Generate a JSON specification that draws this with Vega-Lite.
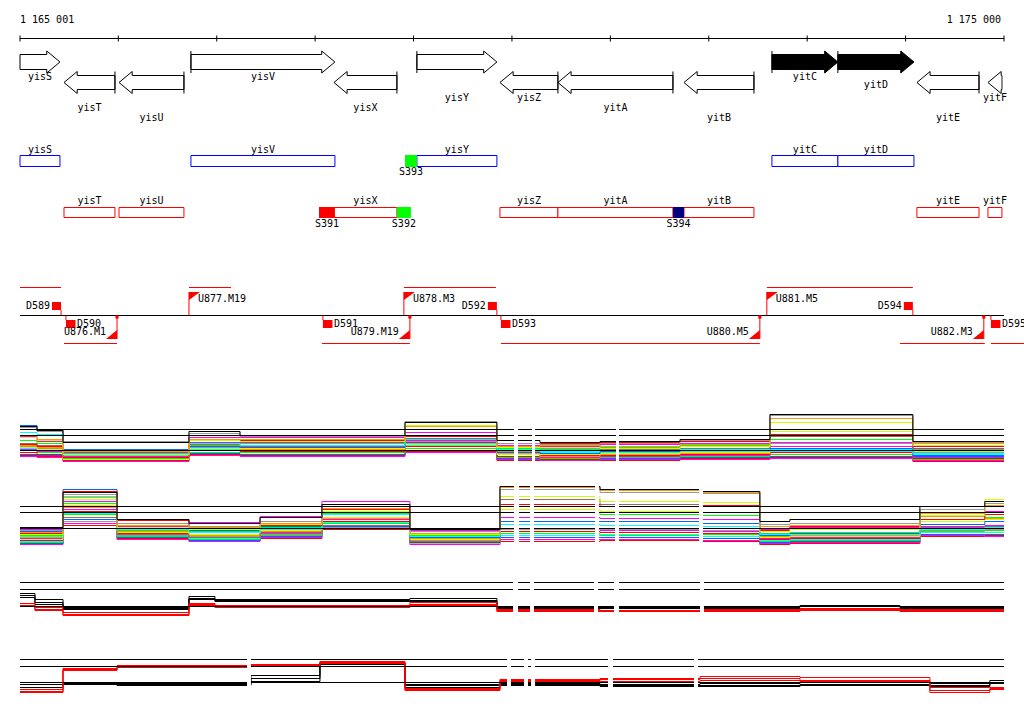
{
"$schema":"https://vega.github.io/schema/vega-lite/v6.json",
"background":"white",
"padding":{"left":18,"top":0,"right":0,"bottom":0},
"spacing":0,
"bounds":"flush",
"config":{"view":{"stroke":null},"text":{"font":"DejaVu Sans Mono","fontSize":10,"baseline":"middle","color":"black"}},
"resolve":{"scale":{"x":"independent","y":"independent","color":"independent","fill":"independent"}},
"datasets":{
"ticks":[{"t":1165001},{"t":1166000},{"t":1167000},{"t":1168000},{"t":1169000},{"t":1170000},{"t":1171000},{"t":1172000},{"t":1173000},{"t":1174000},{"t":1175000}],
"genes":[
{"g":"yisS","start":1165001,"end":1165407,"str":"+","cls":"n","trunc":"s","tier":0},
{"g":"yisT","start":1165448,"end":1165966,"str":"-","cls":"n","trunc":"","tier":3},
{"g":"yisU","start":1166007,"end":1166667,"str":"-","cls":"n","trunc":"","tier":4},
{"g":"yisV","start":1166738,"end":1168201,"str":"+","cls":"n","trunc":"","tier":0},
{"g":"yisX","start":1168191,"end":1168831,"str":"-","cls":"n","trunc":"","tier":3},
{"g":"yisY","start":1169034,"end":1169847,"str":"+","cls":"n","trunc":"","tier":2},
{"g":"yisZ","start":1169878,"end":1170467,"str":"-","cls":"n","trunc":"","tier":2},
{"g":"yitA","start":1170467,"end":1171636,"str":"-","cls":"n","trunc":"","tier":3},
{"g":"yitB","start":1171748,"end":1172459,"str":"-","cls":"n","trunc":"","tier":4},
{"g":"yitC","start":1172642,"end":1173312,"str":"+","cls":"q","trunc":"","tier":0},
{"g":"yitD","start":1173312,"end":1174085,"str":"+","cls":"q","trunc":"","tier":0.8},
{"g":"yitE","start":1174115,"end":1174746,"str":"-","cls":"n","trunc":"","tier":4},
{"g":"yitF","start":1174837,"end":1174979,"str":"-","cls":"n","trunc":"e","tier":2}
],
"sites":[
{"n":"S393","a":1168913,"b":1169034,"str":"+","cat":"g"},
{"n":"S391","a":1168039,"b":1168201,"str":"-","cat":"r"},
{"n":"S392","a":1168831,"b":1168973,"str":"-","cat":"g"},
{"n":"S394","a":1171636,"b":1171748,"str":"-","cat":"b"}
],
"tus":[
{"a":1165001,"b":1165418,"str":"+"},{"a":1166718,"b":1167145,"str":"+"},{"a":1168902,"b":1169837,"str":"+"},{"a":1172590,"b":1174074,"str":"+"},
{"a":1165448,"b":1165987,"str":"-"},{"a":1168069,"b":1168963,"str":"-"},{"a":1169888,"b":1172519,"str":"-"},{"a":1173942,"b":1174805,"str":"-"},{"a":1174867,"b":1175203,"str":"-"}
],
"terms":[
{"n":"D589","pos":1165418,"str":"+"},{"n":"D592","pos":1169847,"str":"+"},{"n":"D594","pos":1174074,"str":"+"},
{"n":"D590","pos":1165468,"str":"-"},{"n":"D591","pos":1168079,"str":"-"},{"n":"D593","pos":1169888,"str":"-"},{"n":"D595","pos":1174867,"str":"-"}
],
"proms":[
{"n":"U877.M19","pos":1166718,"str":"+"},{"n":"U878.M3","pos":1168902,"str":"+"},{"n":"U881.M5","pos":1172590,"str":"+"},
{"n":"U876.M1","pos":1165987,"str":"-"},{"n":"U879.M19","pos":1168963,"str":"-"},{"n":"U880.M5","pos":1172519,"str":"-"},{"n":"U882.M3","pos":1174795,"str":"-"}
],
"refs":[{"p":4,"v":5.0},{"p":4,"v":4.4},{"p":4,"v":2.9},{"p":5,"v":5.3},{"p":5,"v":4.7},{"p":5,"v":3.1},{"p":6,"v":4.7},{"p":6,"v":4.0},{"p":6,"v":2.3},{"p":7,"v":5.4},{"p":7,"v":4.7},{"p":7,"v":3.1}],
"gaps":[
{"p":4,"a":1170021,"b":1170062},{"p":4,"a":1170204,"b":1170235},{"p":4,"a":1171057,"b":1171088},
{"p":5,"a":1170021,"b":1170072},{"p":5,"a":1170184,"b":1170224},{"p":5,"a":1170844,"b":1170885},{"p":5,"a":1171047,"b":1171088},{"p":5,"a":1171901,"b":1171941},
{"p":6,"a":1170011,"b":1170062},{"p":6,"a":1170184,"b":1170224},{"p":6,"a":1170834,"b":1170875},{"p":6,"a":1171037,"b":1171088},{"p":6,"a":1171911,"b":1171951},
{"p":7,"a":1167308,"b":1167348},{"p":7,"a":1169950,"b":1169990},{"p":7,"a":1170123,"b":1170163},{"p":7,"a":1170194,"b":1170235},{"p":7,"a":1170976,"b":1171027},{"p":7,"a":1171850,"b":1171891}
],
"p4":[
{"x":1165001,"k1":5.3,"g1":5.2,"o1":4.4,"y1":4.2,"m1":4.3,"c1":4.7,"r1":3.5,"n1":3.9,"b1":5.4,"y2":3.2,"m2":3.0,"r2":2.7,"o2":3.4,"n2":2.9,"c2":3.1,"w1":3.6,"b2":2.5,"g2":3.3,"m3":2.3,"r3":2.4},
{"x":1165174,"k1":4.9,"g1":4.8,"o1":4.0,"y1":3.9,"m1":3.8,"c1":4.5,"r1":3.3,"n1":3.6,"b1":5.0,"y2":3.0,"m2":2.8,"r2":2.5,"o2":3.2,"n2":2.7,"c2":2.9,"w1":3.4,"b2":2.4,"g2":3.1,"m3":2.2,"r3":2.3},
{"x":1165438,"k1":3.7,"g1":3.8,"o1":2.8,"y1":2.5,"m1":2.7,"c1":2.4,"r1":2.2,"n1":2.6,"b1":3.0,"y2":2.0,"m2":2.3,"r2":1.9,"o2":3.0,"n2":2.1,"c2":2.5,"w1":2.6,"b2":2.2,"g2":2.4,"m3":1.8,"r3":2.0},
{"x":1166718,"k1":4.8,"g1":4.6,"o1":4.0,"y1":3.9,"m1":4.2,"c1":3.6,"r1":4.0,"n1":3.4,"b1":3.3,"y2":3.1,"m2":3.7,"r2":2.9,"o2":3.2,"n2":2.7,"c2":3.0,"w1":3.5,"b2":2.6,"g2":3.2,"m3":2.4,"r3":2.5},
{"x":1167237,"k1":4.4,"g1":4.3,"o1":4.0,"y1":3.8,"m1":4.2,"c1":3.4,"r1":3.9,"n1":3.6,"b1":3.2,"y2":3.1,"m2":3.7,"r2":2.8,"o2":3.0,"n2":2.7,"c2":2.9,"w1":3.3,"b2":2.5,"g2":3.4,"m3":2.3,"r3":2.4},
{"x":1168913,"k1":5.7,"g1":5.8,"o1":5.3,"y1":5.4,"m1":4.7,"c1":4.0,"r1":4.3,"n1":4.4,"b1":3.7,"y2":3.5,"m2":3.9,"r2":3.3,"o2":3.6,"n2":3.1,"c2":3.4,"w1":4.1,"b2":2.9,"g2":3.8,"m3":2.7,"r3":2.8},
{"x":1169847,"k1":3.9,"g1":3.6,"o1":3.3,"y1":3.2,"m1":3.4,"c1":3.0,"r1":3.6,"n1":3.1,"b1":2.7,"y2":2.5,"m2":2.9,"r2":2.3,"o2":2.6,"n2":2.2,"c2":2.8,"w1":3.0,"b2":2.1,"g2":2.8,"m3":2.0,"r3":1.9},
{"x":1170285,"k1":3.7,"g1":3.5,"o1":3.4,"y1":3.2,"m1":3.3,"c1":2.8,"r1":3.6,"n1":3.1,"b1":2.6,"y2":2.5,"m2":2.2,"r2":2.4,"o2":2.3,"n2":2.1,"c2":2.7,"w1":2.9,"b2":2.2,"g2":3.0,"m3":1.9,"r3":2.0},
{"x":1170895,"k1":3.8,"g1":3.6,"o1":3.3,"y1":3.1,"m1":3.5,"c1":2.9,"r1":3.7,"n1":3.2,"b1":2.8,"y2":2.6,"m2":2.3,"r2":2.4,"o2":2.5,"n2":2.2,"c2":2.7,"w1":3.0,"b2":2.1,"g2":2.9,"m3":2.0,"r3":1.9},
{"x":1171708,"k1":4.0,"g1":3.9,"o1":3.5,"y1":3.3,"m1":3.6,"c1":3.0,"r1":3.8,"n1":3.4,"b1":2.9,"y2":2.7,"m2":2.4,"r2":2.5,"o2":2.6,"n2":2.3,"c2":2.8,"w1":3.1,"b2":2.2,"g2":3.0,"m3":2.0,"r3":2.1},
{"x":1172622,"k1":6.5,"g1":6.4,"o1":6.1,"y1":5.7,"m1":3.7,"c1":2.8,"r1":4.5,"n1":4.0,"b1":3.1,"y2":4.8,"m2":3.3,"r2":2.7,"o2":2.9,"n2":2.5,"c2":3.0,"w1":4.3,"b2":2.3,"g2":3.6,"m3":2.1,"r3":2.2},
{"x":1174074,"k1":3.8,"g1":3.7,"o1":3.6,"y1":3.4,"m1":3.1,"c1":2.5,"r1":3.3,"n1":3.0,"b1":2.4,"y2":2.8,"m2":2.2,"r2":2.1,"o2":2.7,"n2":2.0,"c2":2.6,"w1":2.9,"b2":2.3,"g2":2.7,"m3":1.9,"r3":1.8},
{"x":1175000,"k1":3.8,"g1":3.7,"o1":3.6,"y1":3.4,"m1":3.1,"c1":2.5,"r1":3.3,"n1":3.0,"b1":2.4,"y2":2.8,"m2":2.2,"r2":2.1,"o2":2.7,"n2":2.0,"c2":2.6,"w1":2.9,"b2":2.3,"g2":2.7,"m3":1.9,"r3":1.8}
],
"p5":[
{"x":1165001,"k1":3.2,"g1":2.9,"o1":2.7,"y1":2.5,"m1":3.0,"c1":2.3,"r1":2.6,"n1":2.4,"b1":2.8,"y2":2.0,"m2":2.1,"r2":1.9,"o2":2.2,"n2":1.7,"c2":1.8,"w1":2.3,"b2":1.6,"g2":2.4,"m3":1.5,"r3":1.6},
{"x":1165438,"k1":6.7,"g1":6.5,"o1":6.2,"y1":6.0,"m1":5.8,"c1":6.3,"r1":6.8,"n1":5.6,"b1":7.0,"y2":5.4,"m2":5.0,"r2":4.8,"o2":5.2,"n2":4.5,"c2":4.6,"w1":4.2,"b2":4.0,"g2":3.8,"m3":3.6,"r3":3.4},
{"x":1165987,"k1":4.0,"g1":3.6,"o1":3.4,"y1":3.2,"m1":3.3,"c1":3.0,"r1":3.9,"n1":2.9,"b1":3.1,"y2":2.7,"m2":2.5,"r2":2.6,"o2":2.8,"n2":2.3,"c2":2.4,"w1":2.5,"b2":2.2,"g2":2.4,"m3":2.0,"r3":2.1},
{"x":1166718,"k1":3.6,"g1":3.3,"o1":3.2,"y1":3.0,"m1":3.7,"c1":2.7,"r1":3.1,"n1":2.8,"b1":2.9,"y2":2.5,"m2":2.3,"r2":2.2,"o2":2.4,"n2":2.0,"c2":2.1,"w1":2.2,"b2":1.9,"g2":2.3,"m3":1.8,"r3":1.9},
{"x":1167440,"k1":4.2,"g1":3.8,"o1":3.6,"y1":3.5,"m1":4.3,"c1":3.0,"r1":3.4,"n1":3.2,"b1":3.3,"y2":2.9,"m2":2.7,"r2":2.6,"o2":2.8,"n2":2.4,"c2":2.5,"w1":2.6,"b2":2.3,"g2":2.5,"m3":2.2,"r3":2.1},
{"x":1168069,"k1":5.5,"g1":5.3,"o1":5.1,"y1":4.8,"m1":5.8,"c1":4.5,"r1":5.0,"n1":4.6,"b1":4.7,"y2":4.2,"m2":4.0,"r2":3.8,"o2":4.1,"n2":3.6,"c2":3.7,"w1":3.4,"b2":3.3,"g2":3.2,"m3":3.1,"r3":3.0},
{"x":1168963,"k1":3.0,"g1":2.8,"o1":2.6,"y1":2.5,"m1":2.9,"c1":2.3,"r1":3.1,"n1":2.4,"b1":2.2,"y2":2.0,"m2":1.9,"r2":1.7,"o2":2.1,"n2":1.8,"c2":1.6,"w1":1.8,"b2":1.7,"g2":1.9,"m3":1.5,"r3":1.6},
{"x":1169878,"k1":7.3,"g1":7.0,"o1":7.2,"y1":6.3,"m1":4.2,"c1":3.5,"r1":5.5,"n1":4.7,"b1":3.8,"y2":5.0,"m2":3.0,"r2":2.8,"o2":3.1,"n2":2.6,"c2":2.4,"w1":6.0,"b2":2.2,"g2":3.0,"m3":2.0,"r3":1.8},
{"x":1170895,"k1":7.0,"g1":6.7,"o1":6.9,"y1":5.8,"m1":4.1,"c1":3.4,"r1":5.3,"n1":4.5,"b1":3.8,"y2":4.8,"m2":2.9,"r2":2.7,"o2":3.0,"n2":2.4,"c2":2.5,"w1":5.5,"b2":2.2,"g2":3.0,"m3":2.0,"r3":1.9},
{"x":1171911,"k1":6.8,"g1":6.6,"o1":6.7,"y1":5.7,"m1":4.0,"c1":3.3,"r1":5.4,"n1":4.4,"b1":3.6,"y2":4.7,"m2":2.8,"r2":2.6,"o2":2.9,"n2":2.5,"c2":2.3,"w1":5.4,"b2":2.1,"g2":2.9,"m3":1.9,"r3":1.8},
{"x":1172519,"k1":3.8,"g1":3.5,"o1":3.3,"y1":2.8,"m1":3.0,"c1":2.5,"r1":2.9,"n1":2.6,"b1":2.4,"y2":2.2,"m2":2.1,"r2":2.0,"o2":2.3,"n2":1.8,"c2":1.9,"w1":2.4,"b2":1.7,"g2":2.2,"m3":1.6,"r3":1.5},
{"x":1172824,"k1":4.0,"g1":3.6,"o1":3.4,"y1":3.0,"m1":3.2,"c1":2.5,"r1":3.3,"n1":2.7,"b1":2.6,"y2":2.3,"m2":2.2,"r2":2.1,"o2":2.4,"n2":1.9,"c2":2.0,"w1":2.5,"b2":1.8,"g2":2.3,"m3":1.7,"r3":1.6},
{"x":1174145,"k1":5.3,"g1":5.0,"o1":4.6,"y1":4.4,"m1":5.0,"c1":3.0,"r1":4.0,"n1":4.7,"b1":3.5,"y2":3.8,"m2":3.3,"r2":3.1,"o2":4.3,"n2":2.9,"c2":2.7,"w1":3.2,"b2":2.5,"g2":2.8,"m3":2.4,"r3":2.3},
{"x":1174805,"k1":5.8,"g1":5.6,"o1":5.4,"y1":6.0,"m1":4.8,"c1":3.2,"r1":4.5,"n1":4.2,"b1":3.8,"y2":4.0,"m2":3.4,"r2":3.1,"o2":4.1,"n2":2.9,"c2":2.7,"w1":3.3,"b2":2.5,"g2":3.0,"m3":2.3,"r3":2.4},
{"x":1175000,"k1":5.8,"g1":5.6,"o1":5.4,"y1":6.0,"m1":4.8,"c1":3.2,"r1":4.5,"n1":4.2,"b1":3.8,"y2":4.0,"m2":3.4,"r2":3.1,"o2":4.1,"n2":2.9,"c2":2.7,"w1":3.3,"b2":2.5,"g2":3.0,"m3":2.3,"r3":2.4}
],
"p6":[
{"x":1165001,"k1":3.6,"k2":3.4,"k3":3.2,"r1":2.6,"r2":2.4,"r3":2.3},
{"x":1165153,"k1":3.0,"k2":2.7,"k3":2.5,"r1":2.2,"r2":2.0,"r3":1.9},
{"x":1165438,"k1":2.2,"k2":2.1,"k3":2.0,"r1":1.7,"r2":1.5,"r3":1.4},
{"x":1166718,"k1":3.3,"k2":3.1,"k3":3.0,"r1":2.6,"r2":2.5,"r3":2.4},
{"x":1166982,"k1":3.0,"k2":2.9,"k3":2.8,"r1":2.4,"r2":2.3,"r3":2.2},
{"x":1168963,"k1":3.1,"k2":2.9,"k3":2.8,"r1":2.7,"r2":2.5,"r3":2.4},
{"x":1169847,"k1":2.3,"k2":2.2,"k3":2.1,"r1":2.0,"r2":1.9,"r3":1.8},
{"x":1170895,"k1":2.3,"k2":2.2,"k3":2.1,"r1":1.9,"r2":1.8,"r3":1.8},
{"x":1171911,"k1":2.3,"k2":2.2,"k3":2.1,"r1":2.0,"r2":1.9,"r3":1.8},
{"x":1172927,"k1":2.4,"k2":2.3,"k3":2.1,"r1":2.0,"r2":2.1,"r3":1.9},
{"x":1173942,"k1":2.3,"k2":2.2,"k3":2.1,"r1":2.0,"r2":1.9,"r3":1.8},
{"x":1175000,"k1":2.3,"k2":2.2,"k3":2.1,"r1":2.0,"r2":1.9,"r3":1.8}
],
"p7":[
{"x":1165001,"k1":3.1,"k2":2.9,"k3":2.6,"r1":2.4,"r2":2.2,"r3":2.1},
{"x":1165438,"k1":3.1,"k2":3.0,"k3":2.9,"r1":4.5,"r2":4.4,"r3":4.3},
{"x":1165987,"k1":3.0,"k2":2.9,"k3":2.8,"r1":4.8,"r2":4.7,"r3":4.6},
{"x":1167348,"k1":3.5,"k2":3.8,"k3":3.2,"r1":4.9,"r2":4.8,"r3":4.7},
{"x":1168049,"k1":5.1,"k2":5.0,"k3":4.9,"r1":5.2,"r2":5.1,"r3":5.0},
{"x":1168913,"k1":2.9,"k2":2.8,"k3":2.6,"r1":2.5,"r2":2.4,"r3":2.3},
{"x":1169878,"k1":3.0,"k2":2.9,"k3":2.8,"r1":3.4,"r2":3.3,"r3":3.2},
{"x":1170895,"k1":2.9,"k2":2.8,"k3":2.7,"r1":3.5,"r2":3.4,"r3":3.2},
{"x":1171911,"k1":3.0,"k2":2.8,"k3":2.7,"r1":3.7,"r2":3.5,"r3":3.3},
{"x":1172927,"k1":3.1,"k2":2.9,"k3":2.8,"r1":3.6,"r2":3.3,"r3":3.2},
{"x":1174247,"k1":3.0,"k2":2.8,"k3":2.7,"r1":2.6,"r2":2.3,"r3":2.1},
{"x":1174856,"k1":3.3,"k2":3.1,"k3":3.0,"r1":2.6,"r2":2.5,"r3":2.4},
{"x":1175000,"k1":3.3,"k2":3.1,"k3":3.0,"r1":2.6,"r2":2.5,"r3":2.4}
]
},
"vconcat":[
{"width":984,"height":130,
 "resolve":{"scale":{"y":"independent"}},
 "layer":[
  {"data":{"values":[{}]},"mark":{"type":"rule","color":"black"},"encoding":{"y":{"datum":3.85,"type":"quantitative","scale":{"domain":[0,13],"reverse":true,"nice":false,"zero":false},"axis":null}}},
  {"data":{"name":"ticks"},"mark":{"type":"rule","color":"black"},"encoding":{"x":{"field":"t","type":"quantitative","scale":{"domain":[1165001,1175000],"nice":false,"zero":false},"axis":null},"y":{"datum":3.55,"type":"quantitative","scale":{"domain":[0,13],"reverse":true,"nice":false,"zero":false},"axis":null},"y2":{"datum":4.15}}},
  {"data":{"values":[{"t":1165001,"lab":"1 165 001"}]},"mark":{"type":"text","align":"left"},"encoding":{"x":{"field":"t","type":"quantitative","scale":{"domain":[1165001,1175000],"nice":false,"zero":false},"axis":null},"y":{"datum":2.0,"type":"quantitative","scale":{"domain":[0,13],"reverse":true,"nice":false,"zero":false},"axis":null},"text":{"field":"lab"}}},
  {"data":{"values":[{"t":1175000,"lab":"1 175 000"}]},"mark":{"type":"text","align":"right","dx":-3},"encoding":{"x":{"field":"t","type":"quantitative","scale":{"domain":[1165001,1175000],"nice":false,"zero":false},"axis":null},"y":{"datum":2.0,"type":"quantitative","scale":{"domain":[0,13],"reverse":true,"nice":false,"zero":false},"axis":null},"text":{"field":"lab"}}},
  {"data":{"name":"genes"},"transform":[{"filter":"datum.str=='+'"},{"calculate":"datum.end-110","as":"be"}],"mark":{"type":"rect","stroke":"black","strokeWidth":1},"encoding":{"x":{"field":"start","type":"quantitative","scale":{"domain":[1165001,1175000],"nice":false,"zero":false},"axis":null},"x2":{"field":"be"},"y":{"datum":5.45,"type":"quantitative","scale":{"domain":[0,13],"reverse":true,"nice":false,"zero":false},"axis":null},"y2":{"datum":6.95},"fill":{"field":"cls","type":"nominal","scale":{"domain":["n","q"],"range":["white","black"]},"legend":null}}},
  {"data":{"name":"genes"},"transform":[{"filter":"datum.str=='-'"},{"calculate":"datum.start+110","as":"bs"}],"mark":{"type":"rect","stroke":"black","strokeWidth":1},"encoding":{"x":{"field":"bs","type":"quantitative","scale":{"domain":[1165001,1175000],"nice":false,"zero":false},"axis":null},"x2":{"field":"end"},"y":{"datum":7.55,"type":"quantitative","scale":{"domain":[0,13],"reverse":true,"nice":false,"zero":false},"axis":null},"y2":{"datum":8.95},"fill":{"field":"cls","type":"nominal","scale":{"domain":["n","q"],"range":["white","black"]},"legend":null}}},
  {"data":{"name":"genes"},"transform":[{"filter":"datum.str=='+'"}],"mark":{"type":"point","shape":"M-1.2,-0.68L-1.2,-1L0,0L-1.2,1L-1.2,0.68","size":484,"filled":true,"stroke":"black","strokeWidth":1,"opacity":1},"encoding":{"x":{"field":"end","type":"quantitative","scale":{"domain":[1165001,1175000],"nice":false,"zero":false},"axis":null},"y":{"datum":6.2,"type":"quantitative","scale":{"domain":[0,13],"reverse":true,"nice":false,"zero":false},"axis":null},"fill":{"field":"cls","type":"nominal","scale":{"domain":["n","q"],"range":["white","black"]},"legend":null}}},
  {"data":{"name":"genes"},"transform":[{"filter":"datum.str=='-'"}],"mark":{"type":"point","shape":"M1.2,-0.636L1.2,-1L0,0L1.2,1L1.2,0.636","size":484,"filled":true,"stroke":"black","strokeWidth":1,"opacity":1},"encoding":{"x":{"field":"start","type":"quantitative","scale":{"domain":[1165001,1175000],"nice":false,"zero":false},"axis":null},"y":{"datum":8.25,"type":"quantitative","scale":{"domain":[0,13],"reverse":true,"nice":false,"zero":false},"axis":null},"fill":{"field":"cls","type":"nominal","scale":{"domain":["n","q"],"range":["white","black"]},"legend":null}}},
  {"data":{"name":"genes"},"transform":[{"filter":"datum.str=='+' && datum.trunc!='s'"}],"mark":{"type":"rule","color":"black"},"encoding":{"x":{"field":"start","type":"quantitative","scale":{"domain":[1165001,1175000],"nice":false,"zero":false},"axis":null},"y":{"datum":5.1,"type":"quantitative","scale":{"domain":[0,13],"reverse":true,"nice":false,"zero":false},"axis":null},"y2":{"datum":7.3}}},
  {"data":{"name":"genes"},"transform":[{"filter":"datum.str=='-' && datum.trunc!='e'"}],"mark":{"type":"rule","color":"black"},"encoding":{"x":{"field":"end","type":"quantitative","scale":{"domain":[1165001,1175000],"nice":false,"zero":false},"axis":null},"y":{"datum":7.15,"type":"quantitative","scale":{"domain":[0,13],"reverse":true,"nice":false,"zero":false},"axis":null},"y2":{"datum":9.35}}},
  {"data":{"name":"genes"},"transform":[{"calculate":"(datum.start+datum.end)/2","as":"mid"}],"mark":{"type":"text","align":"center"},"encoding":{"x":{"field":"mid","type":"quantitative","scale":{"domain":[1165001,1175000],"nice":false,"zero":false},"axis":null},"y":{"field":"tier","type":"quantitative","scale":{"domain":[0,4],"range":[77,118],"nice":false,"zero":false},"axis":null},"text":{"field":"g"}}}
 ]},
{"width":984,"height":110,
 "layer":[
  {"data":{"name":"genes"},"transform":[{"filter":"datum.str=='+'"}],"mark":{"type":"rect","fill":"white","stroke":"#0000ff","strokeWidth":1},"encoding":{"x":{"field":"start","type":"quantitative","scale":{"domain":[1165001,1175000],"nice":false,"zero":false},"axis":null},"x2":{"field":"end"},"y":{"datum":15.55,"type":"quantitative","scale":{"domain":[13,24],"reverse":true,"nice":false,"zero":false},"axis":null},"y2":{"datum":16.65}}},
  {"data":{"name":"genes"},"transform":[{"filter":"datum.str=='-'"}],"mark":{"type":"rect","fill":"white","stroke":"#ff0000","strokeWidth":1},"encoding":{"x":{"field":"start","type":"quantitative","scale":{"domain":[1165001,1175000],"nice":false,"zero":false},"axis":null},"x2":{"field":"end"},"y":{"datum":20.75,"type":"quantitative","scale":{"domain":[13,24],"reverse":true,"nice":false,"zero":false},"axis":null},"y2":{"datum":21.75}}},
  {"data":{"name":"genes"},"transform":[{"filter":"datum.str=='+'"},{"calculate":"(datum.start+datum.end)/2","as":"mid"}],"mark":{"type":"text","align":"center"},"encoding":{"x":{"field":"mid","type":"quantitative","scale":{"domain":[1165001,1175000],"nice":false,"zero":false},"axis":null},"y":{"datum":14.95,"type":"quantitative","scale":{"domain":[13,24],"reverse":true,"nice":false,"zero":false},"axis":null},"text":{"field":"g"}}},
  {"data":{"name":"genes"},"transform":[{"filter":"datum.str=='-'"},{"calculate":"(datum.start+datum.end)/2","as":"mid"}],"mark":{"type":"text","align":"center"},"encoding":{"x":{"field":"mid","type":"quantitative","scale":{"domain":[1165001,1175000],"nice":false,"zero":false},"axis":null},"y":{"datum":20.1,"type":"quantitative","scale":{"domain":[13,24],"reverse":true,"nice":false,"zero":false},"axis":null},"text":{"field":"g"}}},
  {"data":{"name":"sites"},"transform":[{"filter":"datum.str=='+'"}],"mark":{"type":"rect"},"encoding":{"x":{"field":"a","type":"quantitative","scale":{"domain":[1165001,1175000],"nice":false,"zero":false},"axis":null},"x2":{"field":"b"},"y":{"datum":15.5,"type":"quantitative","scale":{"domain":[13,24],"reverse":true,"nice":false,"zero":false},"axis":null},"y2":{"datum":16.7},"fill":{"field":"cat","type":"nominal","scale":{"domain":["g","r","b"],"range":["#00ff00","#ff0000","#000080"]},"legend":null}}},
  {"data":{"name":"sites"},"transform":[{"filter":"datum.str=='-'"}],"mark":{"type":"rect"},"encoding":{"x":{"field":"a","type":"quantitative","scale":{"domain":[1165001,1175000],"nice":false,"zero":false},"axis":null},"x2":{"field":"b"},"y":{"datum":20.7,"type":"quantitative","scale":{"domain":[13,24],"reverse":true,"nice":false,"zero":false},"axis":null},"y2":{"datum":21.8},"fill":{"field":"cat","type":"nominal","scale":{"domain":["g","r","b"],"range":["#00ff00","#ff0000","#000080"]},"legend":null}}},
  {"data":{"name":"sites"},"transform":[{"filter":"datum.str=='+'"},{"calculate":"(datum.a+datum.b)/2","as":"mid"}],"mark":{"type":"text","align":"center"},"encoding":{"x":{"field":"mid","type":"quantitative","scale":{"domain":[1165001,1175000],"nice":false,"zero":false},"axis":null},"y":{"datum":17.2,"type":"quantitative","scale":{"domain":[13,24],"reverse":true,"nice":false,"zero":false},"axis":null},"text":{"field":"n"}}},
  {"data":{"name":"sites"},"transform":[{"filter":"datum.str=='-'"},{"calculate":"(datum.a+datum.b)/2","as":"mid"}],"mark":{"type":"text","align":"center"},"encoding":{"x":{"field":"mid","type":"quantitative","scale":{"domain":[1165001,1175000],"nice":false,"zero":false},"axis":null},"y":{"datum":22.4,"type":"quantitative","scale":{"domain":[13,24],"reverse":true,"nice":false,"zero":false},"axis":null},"text":{"field":"n"}}}
 ]},
{"width":984,"height":120,
 "layer":[
  {"data":{"values":[{}]},"mark":{"type":"rule","color":"black"},"encoding":{"y":{"datum":31.55,"type":"quantitative","scale":{"domain":[24,36],"reverse":true,"nice":false,"zero":false},"axis":null}}},
  {"data":{"name":"tus"},"transform":[{"filter":"datum.str=='+'"}],"mark":{"type":"rule","color":"#ff0000"},"encoding":{"x":{"field":"a","type":"quantitative","scale":{"domain":[1165001,1175000],"nice":false,"zero":false},"axis":null},"x2":{"field":"b"},"y":{"datum":28.75,"type":"quantitative","scale":{"domain":[24,36],"reverse":true,"nice":false,"zero":false},"axis":null}}},
  {"data":{"name":"tus"},"transform":[{"filter":"datum.str=='-'"}],"mark":{"type":"rule","color":"#ff0000"},"encoding":{"x":{"field":"a","type":"quantitative","scale":{"domain":[1165001,1175000],"nice":false,"zero":false},"axis":null},"x2":{"field":"b"},"y":{"datum":34.35,"type":"quantitative","scale":{"domain":[24,36],"reverse":true,"nice":false,"zero":false},"axis":null}}},
  {"data":{"name":"terms"},"transform":[{"filter":"datum.str=='+'"}],"mark":{"type":"rule","color":"#ff0000"},"encoding":{"x":{"field":"pos","type":"quantitative","scale":{"domain":[1165001,1175000],"nice":false,"zero":false},"axis":null},"y":{"datum":31.0,"type":"quantitative","scale":{"domain":[24,36],"reverse":true,"nice":false,"zero":false},"axis":null},"y2":{"datum":31.55}}},
  {"data":{"name":"terms"},"transform":[{"filter":"datum.str=='-'"}],"mark":{"type":"rule","color":"#ff0000"},"encoding":{"x":{"field":"pos","type":"quantitative","scale":{"domain":[1165001,1175000],"nice":false,"zero":false},"axis":null},"y":{"datum":31.55,"type":"quantitative","scale":{"domain":[24,36],"reverse":true,"nice":false,"zero":false},"axis":null},"y2":{"datum":32.0}}},
  {"data":{"name":"terms"},"transform":[{"filter":"datum.str=='+'"},{"calculate":"datum.pos-92","as":"sa"}],"mark":{"type":"rect","color":"#ff0000"},"encoding":{"x":{"field":"sa","type":"quantitative","scale":{"domain":[1165001,1175000],"nice":false,"zero":false},"axis":null},"x2":{"field":"pos"},"y":{"datum":30.2,"type":"quantitative","scale":{"domain":[24,36],"reverse":true,"nice":false,"zero":false},"axis":null},"y2":{"datum":31.0}}},
  {"data":{"name":"terms"},"transform":[{"filter":"datum.str=='-'"},{"calculate":"datum.pos+97","as":"sb"}],"mark":{"type":"rect","color":"#ff0000"},"encoding":{"x":{"field":"pos","type":"quantitative","scale":{"domain":[1165001,1175000],"nice":false,"zero":false},"axis":null},"x2":{"field":"sb"},"y":{"datum":32.0,"type":"quantitative","scale":{"domain":[24,36],"reverse":true,"nice":false,"zero":false},"axis":null},"y2":{"datum":32.8}}},
  {"data":{"name":"terms"},"transform":[{"filter":"datum.str=='+'"}],"mark":{"type":"text","align":"right","dx":-11},"encoding":{"x":{"field":"pos","type":"quantitative","scale":{"domain":[1165001,1175000],"nice":false,"zero":false},"axis":null},"y":{"datum":30.6,"type":"quantitative","scale":{"domain":[24,36],"reverse":true,"nice":false,"zero":false},"axis":null},"text":{"field":"n"}}},
  {"data":{"name":"terms"},"transform":[{"filter":"datum.str=='-'"}],"mark":{"type":"text","align":"left","dx":11},"encoding":{"x":{"field":"pos","type":"quantitative","scale":{"domain":[1165001,1175000],"nice":false,"zero":false},"axis":null},"y":{"datum":32.4,"type":"quantitative","scale":{"domain":[24,36],"reverse":true,"nice":false,"zero":false},"axis":null},"text":{"field":"n"}}},
  {"data":{"name":"proms"},"transform":[{"filter":"datum.str=='+'"}],"mark":{"type":"rule","color":"#ff0000"},"encoding":{"x":{"field":"pos","type":"quantitative","scale":{"domain":[1165001,1175000],"nice":false,"zero":false},"axis":null},"y":{"datum":29.2,"type":"quantitative","scale":{"domain":[24,36],"reverse":true,"nice":false,"zero":false},"axis":null},"y2":{"datum":31.55}}},
  {"data":{"name":"proms"},"transform":[{"filter":"datum.str=='-'"}],"mark":{"type":"rule","color":"#ff0000"},"encoding":{"x":{"field":"pos","type":"quantitative","scale":{"domain":[1165001,1175000],"nice":false,"zero":false},"axis":null},"y":{"datum":31.55,"type":"quantitative","scale":{"domain":[24,36],"reverse":true,"nice":false,"zero":false},"axis":null},"y2":{"datum":33.9}}},
  {"data":{"name":"proms"},"transform":[{"filter":"datum.str=='+'"}],"mark":{"type":"point","shape":"M0,0L2.2,0L0,1.6Z","size":100,"filled":true,"color":"#ff0000","opacity":1},"encoding":{"x":{"field":"pos","type":"quantitative","scale":{"domain":[1165001,1175000],"nice":false,"zero":false},"axis":null},"y":{"datum":29.2,"type":"quantitative","scale":{"domain":[24,36],"reverse":true,"nice":false,"zero":false},"axis":null}}},
  {"data":{"name":"proms"},"transform":[{"filter":"datum.str=='-'"}],"mark":{"type":"point","shape":"M0,0L0,-1.8L-2.2,0Z","size":100,"filled":true,"color":"#ff0000","opacity":1},"encoding":{"x":{"field":"pos","type":"quantitative","scale":{"domain":[1165001,1175000],"nice":false,"zero":false},"axis":null},"y":{"datum":33.9,"type":"quantitative","scale":{"domain":[24,36],"reverse":true,"nice":false,"zero":false},"axis":null}}},
  {"data":{"name":"proms"},"transform":[{"filter":"datum.str=='-'"}],"mark":{"type":"point","shape":"square","size":10,"filled":true,"color":"#ff0000","opacity":1},"encoding":{"x":{"field":"pos","type":"quantitative","scale":{"domain":[1165001,1175000],"nice":false,"zero":false},"axis":null},"y":{"datum":31.7,"type":"quantitative","scale":{"domain":[24,36],"reverse":true,"nice":false,"zero":false},"axis":null}}},
  {"data":{"name":"proms"},"transform":[{"filter":"datum.str=='+'"}],"mark":{"type":"text","align":"left","dx":9},"encoding":{"x":{"field":"pos","type":"quantitative","scale":{"domain":[1165001,1175000],"nice":false,"zero":false},"axis":null},"y":{"datum":29.85,"type":"quantitative","scale":{"domain":[24,36],"reverse":true,"nice":false,"zero":false},"axis":null},"text":{"field":"n"}}},
  {"data":{"name":"proms"},"transform":[{"filter":"datum.str=='-'"}],"mark":{"type":"text","align":"right","dx":-11},"encoding":{"x":{"field":"pos","type":"quantitative","scale":{"domain":[1165001,1175000],"nice":false,"zero":false},"axis":null},"y":{"datum":33.2,"type":"quantitative","scale":{"domain":[24,36],"reverse":true,"nice":false,"zero":false},"axis":null},"text":{"field":"n"}}}
 ]},
{"width":984,"height":120,
 "layer":[
  {"data":{"name":"p4"},"transform":[{"fold":["r3","m3","b2","n2","c2","r2","m2","o2","g2","y2","w1","b1","n1","c1","r1","m1","y1","o1","g1","k1"],"as":["s","v"]}],"mark":{"type":"line","interpolate":"step-after","strokeWidth":1},"encoding":{"x":{"field":"x","type":"quantitative","scale":{"domain":[1165001,1175000],"nice":false,"zero":false},"axis":null},"y":{"field":"v","type":"quantitative","scale":{"domain":[-0.05,11.95],"nice":false,"zero":false},"axis":null},"color":{"field":"s","type":"nominal","scale":{"domain":["k1","k2","k3","g1","g2","o1","o2","y1","y2","m1","m2","m3","c1","c2","r1","r2","r3","n1","n2","b1","b2","w1"],"range":["#000000","#000000","#000000","#999999","#999999","#ff9900","#ff9900","#ccff00","#ccff00","#ff00ff","#ff00ff","#ff00ff","#00ffff","#00ffff","#ff0000","#ff0000","#ff0000","#00ff00","#00ff00","#0066ff","#0066ff","#996666"]},"legend":null}}},
  {"data":{"name":"refs"},"transform":[{"filter":"datum.p==4"}],"mark":{"type":"rule","color":"black"},"encoding":{"y":{"field":"v","type":"quantitative"}}},
  {"data":{"name":"gaps"},"transform":[{"filter":"datum.p==4"}],"mark":{"type":"rect","color":"white"},"encoding":{"x":{"field":"a","type":"quantitative"},"x2":{"field":"b"}}}
 ]},
{"width":984,"height":80,
 "layer":[
  {"data":{"name":"p5"},"transform":[{"fold":["r3","m3","b2","n2","c2","r2","m2","o2","g2","y2","w1","b1","n1","c1","r1","m1","y1","o1","g1","k1"],"as":["s","v"]}],"mark":{"type":"line","interpolate":"step-after","strokeWidth":1},"encoding":{"x":{"field":"x","type":"quantitative","scale":{"domain":[1165001,1175000],"nice":false,"zero":false},"axis":null},"y":{"field":"v","type":"quantitative","scale":{"domain":[-0.05,7.95],"nice":false,"zero":false},"axis":null},"color":{"field":"s","type":"nominal","scale":{"domain":["k1","k2","k3","g1","g2","o1","o2","y1","y2","m1","m2","m3","c1","c2","r1","r2","r3","n1","n2","b1","b2","w1"],"range":["#000000","#000000","#000000","#999999","#999999","#ff9900","#ff9900","#ccff00","#ccff00","#ff00ff","#ff00ff","#ff00ff","#00ffff","#00ffff","#ff0000","#ff0000","#ff0000","#00ff00","#00ff00","#0066ff","#0066ff","#996666"]},"legend":null}}},
  {"data":{"name":"refs"},"transform":[{"filter":"datum.p==5"}],"mark":{"type":"rule","color":"black"},"encoding":{"y":{"field":"v","type":"quantitative"}}},
  {"data":{"name":"gaps"},"transform":[{"filter":"datum.p==5"}],"mark":{"type":"rect","color":"white"},"encoding":{"x":{"field":"a","type":"quantitative"},"x2":{"field":"b"}}}
 ]},
{"width":984,"height":70,
 "layer":[
  {"data":{"name":"p6"},"transform":[{"fold":["k3","k2","k1","r3","r2","r1"],"as":["s","v"]}],"mark":{"type":"line","interpolate":"step-after","strokeWidth":1},"encoding":{"x":{"field":"x","type":"quantitative","scale":{"domain":[1165001,1175000],"nice":false,"zero":false},"axis":null},"y":{"field":"v","type":"quantitative","scale":{"domain":[-0.05,6.95],"nice":false,"zero":false},"axis":null},"color":{"field":"s","type":"nominal","scale":{"domain":["k1","k2","k3","r1","r2","r3"],"range":["#000000","#000000","#000000","#ff0000","#ff0000","#ff0000"]},"legend":null}}},
  {"data":{"name":"refs"},"transform":[{"filter":"datum.p==6"}],"mark":{"type":"rule","color":"black"},"encoding":{"y":{"field":"v","type":"quantitative"}}},
  {"data":{"name":"gaps"},"transform":[{"filter":"datum.p==6"}],"mark":{"type":"rect","color":"white"},"encoding":{"x":{"field":"a","type":"quantitative"},"x2":{"field":"b"}}}
 ]},
{"width":984,"height":84,
 "layer":[
  {"data":{"name":"p7"},"transform":[{"fold":["k3","k2","k1","r3","r2","r1"],"as":["s","v"]}],"mark":{"type":"line","interpolate":"step-after","strokeWidth":1},"encoding":{"x":{"field":"x","type":"quantitative","scale":{"domain":[1165001,1175000],"nice":false,"zero":false},"axis":null},"y":{"field":"v","type":"quantitative","scale":{"domain":[-0.05,8.35],"nice":false,"zero":false},"axis":null},"color":{"field":"s","type":"nominal","scale":{"domain":["k1","k2","k3","r1","r2","r3"],"range":["#000000","#000000","#000000","#ff0000","#ff0000","#ff0000"]},"legend":null}}},
  {"data":{"name":"refs"},"transform":[{"filter":"datum.p==7"}],"mark":{"type":"rule","color":"black"},"encoding":{"y":{"field":"v","type":"quantitative"}}},
  {"data":{"name":"gaps"},"transform":[{"filter":"datum.p==7"}],"mark":{"type":"rect","color":"white"},"encoding":{"x":{"field":"a","type":"quantitative"},"x2":{"field":"b"}}}
 ]}
]
}
